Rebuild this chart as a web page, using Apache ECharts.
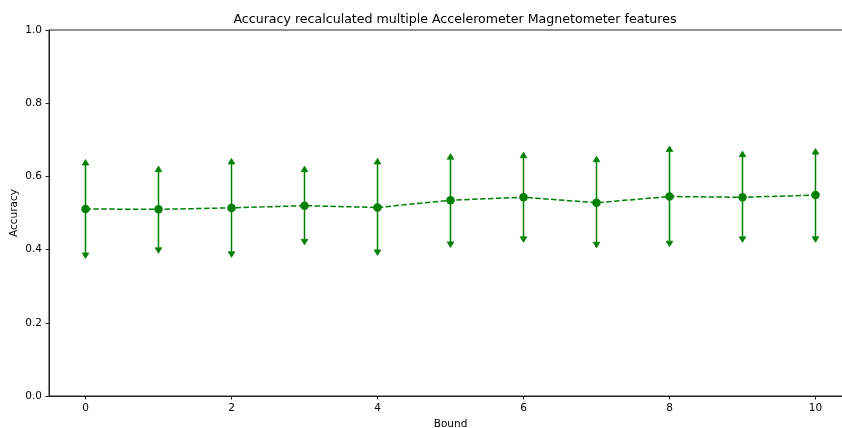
<!DOCTYPE html>
<html>
<head>
<meta charset="utf-8">
<script src="https://cdn.jsdelivr.net/npm/echarts@6/dist/echarts.min.js"></script>
<style>html,body{margin:0;padding:0;background:#fff}#c{width:842px;height:428px}</style>
</head>
<body>
<div id="c"></div>
<script>
var bounds = [0, 1, 2, 3, 4, 5, 6, 7, 8, 9, 10];
var accuracy = [0.511, 0.510, 0.514, 0.520, 0.515, 0.535, 0.543, 0.528, 0.545, 0.543, 0.549];
var lowerErr = [0.391, 0.405, 0.394, 0.428, 0.399, 0.421, 0.435, 0.420, 0.423, 0.435, 0.435];
var upperErr = [0.631, 0.613, 0.634, 0.613, 0.634, 0.647, 0.651, 0.640, 0.668, 0.654, 0.661];
var xTicks = [0, 2, 4, 6, 8, 10];
var yTicks = [0, 0.2, 0.4, 0.6, 0.8, 1.0];

var GREEN = '#008000';
var FONT = 'DejaVu Sans';

var lineData = bounds.map(function (b, i) { return [b, accuracy[i]]; });
var errData = bounds.map(function (b, i) { return [b, lowerErr[i], upperErr[i]]; });

var chart = echarts.init(document.getElementById('c'), null, { renderer: 'canvas' });
chart.setOption({
  animation: false,
  backgroundColor: '#fff',
  title: {
    text: 'Accuracy recalculated multiple Accelerometer Magnetometer features',
    left: 450, top: 8, textAlign: 'center',
    textStyle: { fontFamily: FONT, fontSize: 12.6, fontWeight: 'normal', color: '#000' }
  },
  grid: {
    left: 49, top: 30, width: 803, height: 366,
    outerBoundsMode: 'none', containLabel: false,
    show: true, borderColor: '#222', borderWidth: 1, backgroundColor: 'transparent'
  },
  xAxis: {
    type: 'value', min: -0.5, max: 10.5,
    name: 'Bound', nameLocation: 'middle', nameGap: 23, nameMoveOverlap: false,
    nameTextStyle: { fontFamily: FONT, fontSize: 10.5, color: '#000' },
    axisLine: { show: true, onZero: false, lineStyle: { color: '#222', width: 1 } },
    axisTick: { show: true, customValues: xTicks, length: 3.5, lineStyle: { color: '#222' } },
    axisLabel: { customValues: xTicks, margin: 7, fontFamily: FONT, fontSize: 10.5, color: '#000',
      formatter: function (v) { return String(v); } },
    splitLine: { show: false }
  },
  yAxis: {
    type: 'value', min: 0, max: 1, interval: 0.2,
    name: 'Accuracy', nameLocation: 'middle', nameGap: 29, nameMoveOverlap: false,
    nameTextStyle: { fontFamily: FONT, fontSize: 10.5, color: '#000' },
    axisLine: { show: true, onZero: false, lineStyle: { color: '#222', width: 1 } },
    axisTick: { show: true, length: 3.5, lineStyle: { color: '#222' } },
    axisLabel: { margin: 7, fontFamily: FONT, fontSize: 10.5, color: '#000',
      formatter: function (v) { return v.toFixed(1); } },
    splitLine: { show: false }
  },
  series: [
    {
      type: 'custom',
      z: 2,
      data: errData,
      renderItem: function (params, api) {
        var x = api.value(0);
        var lo = api.coord([x, api.value(1)]);
        var hi = api.coord([x, api.value(2)]);
        var hw = 3.3, h = 5.5;
        return {
          type: 'group',
          children: [
            { type: 'line', shape: { x1: lo[0], y1: lo[1], x2: hi[0], y2: hi[1] },
              style: { stroke: GREEN, lineWidth: 1.5 } },
            { type: 'polygon', shape: { points: [[hi[0] - hw, hi[1]], [hi[0] + hw, hi[1]], [hi[0], hi[1] - h]] },
              style: { fill: GREEN, stroke: GREEN, lineWidth: 0.8 } },
            { type: 'polygon', shape: { points: [[lo[0] - hw, lo[1]], [lo[0] + hw, lo[1]], [lo[0], lo[1] + h]] },
              style: { fill: GREEN, stroke: GREEN, lineWidth: 0.8 } }
          ]
        };
      }
    },
    {
      type: 'line',
      z: 3,
      data: lineData,
      symbol: 'circle', symbolSize: 8.5,
      itemStyle: { color: GREEN },
      lineStyle: { color: GREEN, width: 1.5, type: [5.5, 2.4] }
    }
  ]
});
</script>
</body>
</html>
